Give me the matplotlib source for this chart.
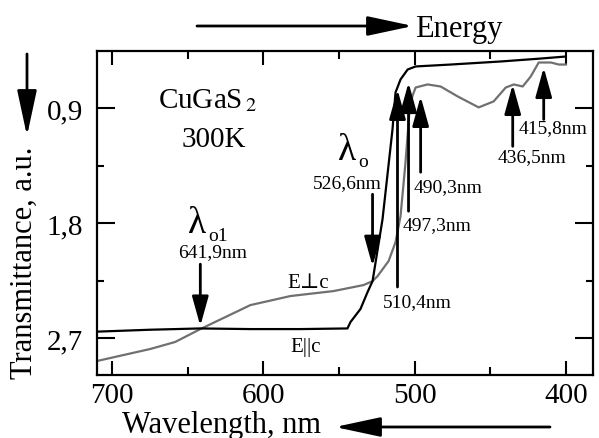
import matplotlib
matplotlib.use("Agg")
import matplotlib.pyplot as plt
from matplotlib.ticker import FixedLocator

plt.rcParams['font.family'] = ['Liberation Serif', 'DejaVu Serif']
plt.rcParams['mathtext.fontset'] = 'stix'

# E||c curve (black), wavelength in nm vs transmittance (a.u., inverted)
par_wl = [709.9, 674.8, 641.7, 608.6, 575.5, 544.4, 542.4, 535.8, 531.1, 527.8,
          521.2, 514.6, 512.6, 509.3, 504.6, 499.3, 476.2, 443.0, 416.6, 400.0]
par_t = [2.65, 2.635, 2.625, 2.63, 2.63, 2.625, 2.575, 2.473, 2.34, 2.254,
         1.769, 1.064, 0.775, 0.673, 0.595, 0.571, 0.556, 0.532, 0.509, 0.493]

# E perp c curve (gray)
perp_wl = [709.9, 674.8, 658.3, 641.7, 608.6, 582.1, 553.6, 533.8, 527.8, 524.5,
           517.2, 512.6, 509.3, 506.0, 503.3, 501.3, 499.3, 491.4, 482.8, 471.5,
           457.6, 447.7, 439.7, 434.4, 428.5, 423.2, 417.9, 409.9, 404.6, 400.0]
perp_t = [2.88, 2.786, 2.731, 2.63, 2.442, 2.371, 2.332, 2.285, 2.254, 2.215,
          2.097, 1.949, 1.745, 1.323, 0.908, 0.798, 0.736, 0.712, 0.728, 0.806,
          0.892, 0.845, 0.736, 0.712, 0.728, 0.65, 0.54, 0.54, 0.556, 0.556]

x_ticks = [700, 600, 500, 400]
x_minor = [650, 550, 450]
y_ticks = [0.9, 1.8, 2.7]
y_tick_labels = ["0,9", "1,8", "2,7"]
y_minor = [1.35, 2.25]

# up arrows: (label, x, tip, tail, label x, label y, label alignment)
up_arrows = [
    ("510,4nm", 511.3, 0.751, 2.30, 521.2, 2.418, "left"),
    ("497,3nm", 504.0, 0.697, 1.706, 508.0, 1.808, "left"),
    ("490,3nm", 496.0, 0.806, 1.40, 500.7, 1.51, "left"),
    ("436,5nm", 435.1, 0.712, 1.197, 422.6, 1.276, "center"),
    ("415,8nm", 414.6, 0.579, 0.986, 431.1, 1.049, "left"),
]
# down arrows: (label, x, tail, tip, label x, label y)
down_arrows = [
    ("526,6nm", 527.8, 1.573, 2.137, 544.4, 1.479),
    ("641,9nm", 641.7, 2.121, 2.606, 633.8, 2.025),
]

fig = plt.figure(figsize=(5.99, 4.39), dpi=100)
ax = fig.add_axes([0.162, 0.1435, 0.828, 0.738])

ax.plot(perp_wl, perp_t, color="#707070", lw=1.6)
ax.plot(par_wl, par_t, color="black", lw=1.6)

ax.set_xlim(710, 382)
ax.set_ylim(2.99, 0.45)

ax.xaxis.set_major_locator(FixedLocator(x_ticks))
ax.xaxis.set_minor_locator(FixedLocator(x_minor))
ax.yaxis.set_major_locator(FixedLocator(y_ticks))
ax.yaxis.set_minor_locator(FixedLocator(y_minor))
ax.set_yticklabels(y_tick_labels)
ax.tick_params(which="both", direction="in", top=True, right=True, width=1.5)
ax.tick_params(axis="x", which="major", length=10, labelsize=21, pad=5)
ax.tick_params(axis="x", which="minor", length=6)
ax.tick_params(axis="y", which="major", length=13, labelsize=21, pad=10)
ax.tick_params(axis="y", which="minor", length=5)
for s in ax.spines.values():
    s.set_linewidth(1.6)

arrow_style = dict(arrowstyle="-|>,head_length=0.9,head_width=0.25",
                   mutation_scale=20, color="black", lw=2,
                   shrinkA=0, shrinkB=0)

for lab, x, tip, tail, lx, ly, ha in up_arrows:
    ax.annotate("", xy=(x, tip), xytext=(x, tail), arrowprops=arrow_style)
    ax.text(lx, ly, lab, fontsize=14, ha=ha, va="center")

for lab, x, tail, tip, lx, ly in down_arrows:
    ax.annotate("", xy=(x, tip), xytext=(x, tail), arrowprops=arrow_style)
    ax.text(lx, ly, lab, fontsize=14, ha="center", va="center")

ax.text(544.4, 1.221, "λ", fontsize=27, ha="center", va="center")
ax.text(533.8, 1.315, "o", fontsize=14, ha="center", va="center")
ax.text(643.7, 1.80, "λ", fontsize=27, ha="center", va="center")
ax.text(629.8, 1.895, "o1", fontsize=14, ha="center", va="center")

ax.text(584.1, 2.262, "E⊥c", fontsize=15, ha="left", va="center")
ax.text(582.1, 2.763, "E||c", fontsize=15, ha="left", va="center")

ax.text(637.0, 0.83, "CuGaS$_{\\,2}$", fontsize=21, ha="center", va="center")
ax.text(633.0, 1.143, "300K", fontsize=21, ha="center", va="center")

# outer labels and direction arrows
fig.text(24 / 599, 1 - 263 / 439, "Transmittance, a.u.", rotation=90,
         fontsize=22, ha="center", va="center")
fig.text(222 / 599, 1 - 433 / 439, "Wavelength, nm", fontsize=22,
         ha="center", va="baseline")
fig.text(415 / 599, 1 - 37 / 439, "Energy", fontsize=22, ha="left",
         va="baseline")

fig_arrow = dict(arrowstyle="-|>,head_length=1.4,head_width=0.3",
                 mutation_scale=20, color="black", lw=2,
                 shrinkA=0, shrinkB=0)
ax.annotate("", xy=(413 / 599, 1 - 27 / 439), xytext=(197 / 599, 1 - 27 / 439),
            xycoords="figure fraction", textcoords="figure fraction",
            arrowprops=fig_arrow, annotation_clip=False)
ax.annotate("", xy=(335 / 599, 1 - 428 / 439), xytext=(550 / 599, 1 - 428 / 439),
            xycoords="figure fraction", textcoords="figure fraction",
            arrowprops=fig_arrow, annotation_clip=False)
ax.annotate("", xy=(27 / 599, 1 - 137 / 439), xytext=(27 / 599, 1 - 55 / 439),
            xycoords="figure fraction", textcoords="figure fraction",
            arrowprops=fig_arrow, annotation_clip=False)

fig.savefig("out.png", dpi=100)
